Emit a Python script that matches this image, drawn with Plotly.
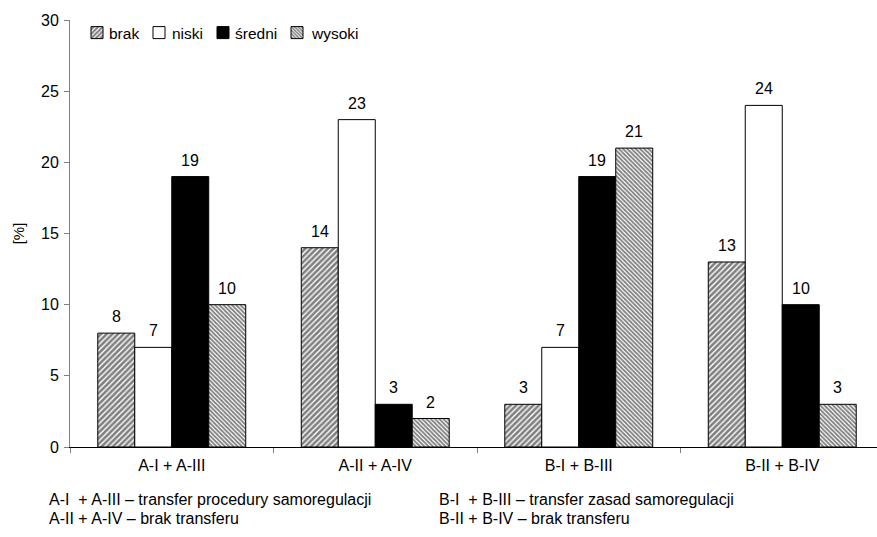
import plotly.graph_objects as go

# Data
categories = ["A-I + A-III", "A-II + A-IV", "B-I + B-III", "B-II + B-IV"]
levels = ["brak", "niski", "średni", "wysoki"]
brak = [8, 14, 3, 13]
niski = [7, 23, 7, 24]
sredni = [19, 3, 19, 10]
wysoki = [10, 2, 21, 3]
y_ticks = [0, 5, 10, 15, 20, 25, 30]
notes_left = ["A-I\u00a0\u00a0+ A-III – transfer procedury samoregulacji",
              "A-II + A-IV – brak transferu"]
notes_right = ["B-I\u00a0\u00a0+ B-III – transfer zasad samoregulacji",
               "B-II + B-IV – brak transferu"]

series = [brak, niski, sredni, wysoki]

FONT = "Liberation Sans, Arial, sans-serif"
BARGAP = 0.273
W, H = 877, 537
ML, MR, MT, MB = 70, 0, 20, 90
PW, PH = W - ML - MR, H - MT - MB


def px_x(p):
    return (p - ML) / PW


def px_y(p):
    return 1 - (p - MT) / PH


styles = [
    dict(color="white", pattern=dict(shape="/", size=4, solidity=0.65,
                                     fgcolor="black", bgcolor="white")),
    dict(color="white"),
    dict(color="black"),
    dict(color="white", pattern=dict(shape="\\", size=3, solidity=0.6,
                                     fgcolor="black", bgcolor="white")),
]

# compact legend: one swatch-only legend per series, names written beside
legend_ids = ["legend", "legend2", "legend3", "legend4"]
swatch_x = [77, 139, 203, 277]
label_x = [107, 170, 233, 309]
LEG_Y = 33

fig = go.Figure()
for name, vals, st, lid in zip(levels, series, styles, legend_ids):
    marker = dict(line=dict(color="black", width=1), **st)
    fig.add_trace(go.Bar(x=categories, y=vals, name="", marker=marker,
                         legend=lid, showlegend=True))

annotations = []
# value labels above each bar
bar_w = (1 - BARGAP) / len(series)
for j, vals in enumerate(series):
    off = (j - (len(series) - 1) / 2) * bar_w
    for i, v in enumerate(vals):
        annotations.append(dict(x=i + off, y=v, xref="x", yref="y", text=str(v),
                                showarrow=False, yanchor="bottom", yshift=6,
                                font=dict(size=16, color="black", family=FONT)))

# legend names
for name, lx in zip(levels, label_x):
    annotations.append(dict(x=px_x(lx), y=px_y(LEG_Y), xref="paper", yref="paper",
                            xanchor="left", yanchor="middle", text=name, showarrow=False,
                            font=dict(size=15.5, color="black", family=FONT)))

# explanatory notes below the chart
for k, (lt, rt) in enumerate(zip(notes_left, notes_right)):
    yp = px_y(500 + 18 * k)
    annotations.append(dict(x=px_x(47), y=yp, xref="paper", yref="paper", xanchor="left",
                            yanchor="middle", text=lt, showarrow=False,
                            font=dict(size=16, color="black", family=FONT)))
    annotations.append(dict(x=px_x(437), y=yp, xref="paper", yref="paper",
                            xanchor="left", yanchor="middle", text=rt, showarrow=False,
                            font=dict(size=16, color="black", family=FONT)))

layout_legends = {}
for lid, sx in zip(legend_ids, swatch_x):
    layout_legends[lid] = dict(x=px_x(sx), xanchor="left", y=px_y(LEG_Y), yanchor="middle",
                               bgcolor="rgba(0,0,0,0)", font=dict(size=14),
                               itemwidth=30, orientation="h")

fig.update_layout(
    width=W, height=H,
    margin=dict(l=ML, r=MR, t=MT, b=MB),
    paper_bgcolor="white", plot_bgcolor="white",
    barmode="group", bargap=BARGAP, bargroupgap=0,
    font=dict(family=FONT, size=16, color="black"),
    showlegend=True,
    annotations=annotations,
    **layout_legends,
)
fig.update_xaxes(
    type="category", range=[-0.5, 3.5 - 7 / 203.5],
    showline=True, linecolor="black", linewidth=1,
    ticks="outside", tickson="boundaries", ticklen=5, tickcolor="#808080",
    showgrid=False, tickfont=dict(size=16), ticklabelstandoff=4,
)
fig.update_yaxes(
    range=[0, 30], tickvals=y_ticks,
    showline=True, linecolor="#808080", linewidth=1,
    ticks="outside", ticklen=5, tickcolor="#808080",
    showgrid=False, zeroline=False, tickfont=dict(size=16), ticklabelstandoff=2,
    title=dict(text="[%]", font=dict(size=15), standoff=12),
)

fig.write_html("out.html")
